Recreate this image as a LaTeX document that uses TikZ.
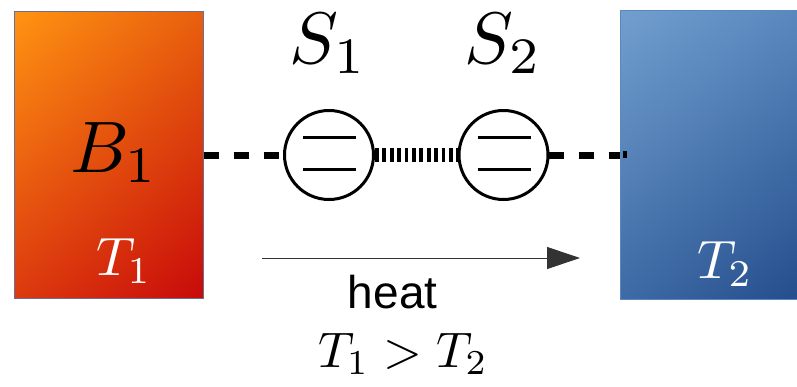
\documentclass[tikz,border=0pt]{standalone}
\usepackage{fontspec}
\newfontfamily\heatfont{Liberation Sans}
\usetikzlibrary{arrows.meta,calc,shadings}
\definecolor{hotA}{HTML}{FF9412}
\definecolor{hotB}{HTML}{E8600E}
\definecolor{hotC}{HTML}{DC3A0E}
\definecolor{hotD}{HTML}{C80A0A}
\definecolor{coldA}{HTML}{729FCF}
\definecolor{coldB}{HTML}{5A88BE}
\definecolor{coldC}{HTML}{3E6AA5}
\definecolor{coldD}{HTML}{244E8C}
\definecolor{hotedge}{HTML}{6A6E90}
\tikzset{
  bath/.style={rectangle,inner sep=0pt,line width=1pt},
  qubit/.style={circle,draw,line width=3pt,minimum size=89pt,inner sep=0pt},
  level/.style={line width=3pt},
  coup/.style={line width=7pt,dash pattern=on 15pt off 15pt},
  scoup/.style={line width=14pt,dash pattern=on 3.7pt off 3.7pt},
  bigm/.style={inner sep=0pt,font=\fontsize{10}{12}\selectfont,scale=7.3},
  midm/.style={inner sep=0pt,font=\fontsize{10}{12}\selectfont,scale=5.4},
  lowm/.style={inner sep=0pt,font=\fontsize{10}{12}\selectfont,scale=5.0},
}
\begin{document}
\begin{tikzpicture}[x=1pt,y=-1pt]
\useasboundingbox (0,0) rectangle (797,386);
\node[bath,draw=hotedge,upper left=hotA,upper right=hotB,lower left=hotC,lower right=hotD,
      minimum width=189pt,minimum height=287pt] (b1) at (108.5,154.5) {};
\node[qubit] (s1) at (329,155) {};
\node[qubit] (s2) at (503.5,155) {};
\draw[level] ($(s1)+(-26,-18)$) -- ($(s1)+(27,-18)$);
\draw[level] ($(s1)+(-26,14)$) -- ($(s1)+(27,14)$);
\draw[level] ($(s2)+(-26,-18)$) -- ($(s2)+(27,-18)$);
\draw[level] ($(s2)+(-26,14)$) -- ($(s2)+(27,14)$);
\coordinate (c2) at ($(s2.east)+(-1,0)$);
\coordinate (c3) at ($(c2)+(75,0)$);
\draw[coup] (s1.west -| b1.east) -- (s1.west);
\draw[coup] (c2) -- (c3);
\draw[scoup] (s1.east) -- (s2.west);
\node[bath,draw=coldB,upper left=coldA,upper right=coldB,lower left=coldC,lower right=coldD,
      minimum width=178pt,minimum height=289pt] (b2) at (709,154.5) {};
\fill (c3 |- b2.west) ++(-1,-3.5) rectangle ++(4,7);
\node[bigm,anchor=base west] (lb) at (69,172) {$B_1$};
\node[bigm,anchor=base west] (ls1) at (288,63) {$S_1$};
\node[bigm,anchor=base west] (ls2) at (463,63) {$S_2$};
\node[midm,anchor=base west,text=white] (lt1) at (95,275) {$T_1$};
\node[midm,anchor=base west,text=white] (lt2) at (696,278) {$T_2$};
\coordinate (a0) at (262,258);
\coordinate (a1) at (580,258);
\draw[line width=1pt,black!80,-{Triangle[length=33pt,width=22pt]}] (a0) -- (a1);
\node[inner sep=0pt,anchor=base west,font=\heatfont\fontsize{10}{12}\selectfont,scale=4.6] (heat) at (347,308) {heat};
\node[lowm,anchor=base] (ineq) at (403,367) {$T_1>T_2$};
\end{tikzpicture}
\end{document}
